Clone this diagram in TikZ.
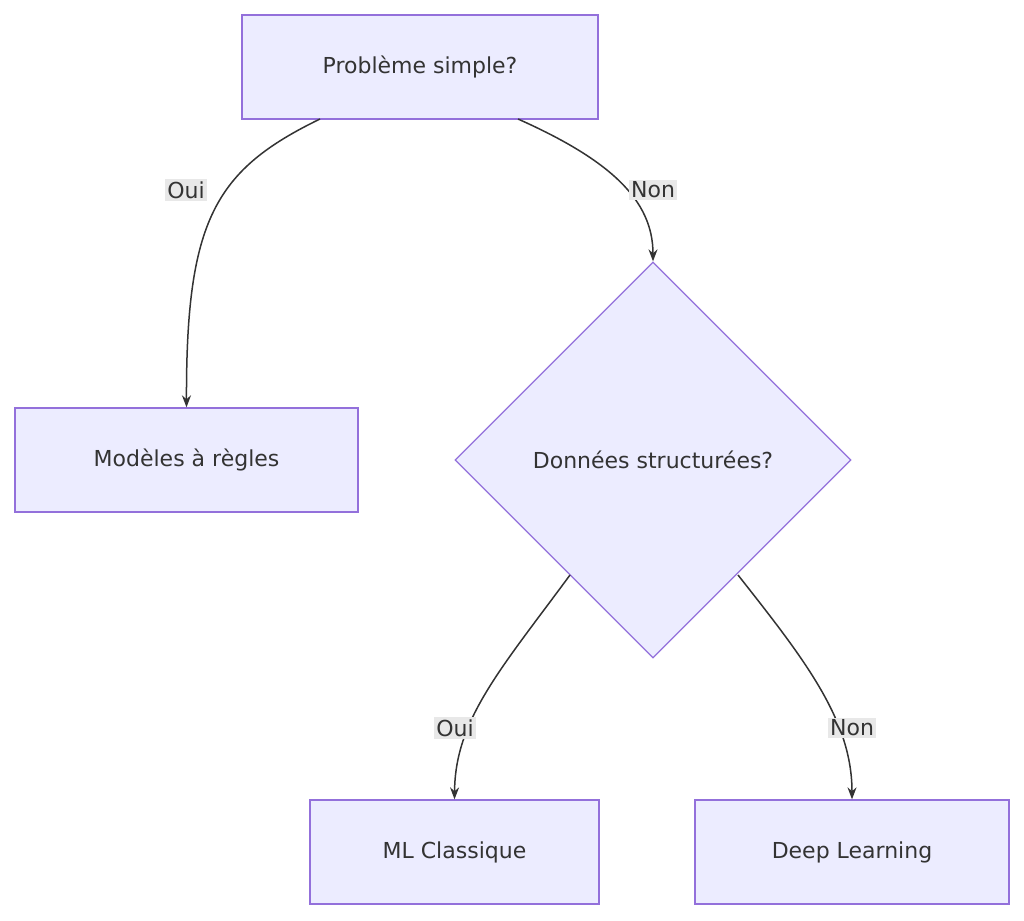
\documentclass[tikz,border=0pt]{standalone}
\usepackage{fontspec}
\setmainfont{DejaVu Sans}
\usetikzlibrary{shapes.geometric,arrows.meta}
\definecolor{nfill}{HTML}{ECECFF}
\definecolor{nline}{HTML}{9370DB}
\definecolor{ntext}{HTML}{333333}
\definecolor{lbg}{HTML}{E8E8E8}
\begin{document}
\begin{tikzpicture}[x=1pt,y=-1pt,
  box/.style={draw=nline,fill=nfill,line width=1.3pt,minimum height=104pt,inner sep=0pt,text=ntext,font=\fontsize{22}{26}\selectfont},
  dia/.style={draw=nline,fill=nfill,line width=1.3pt,diamond,aspect=1,minimum width=396pt,minimum height=396pt,inner sep=0pt,text=ntext,font=\fontsize{22}{26}\selectfont},
  lbl/.style={fill=lbg,text=ntext,inner sep=2pt,font=\fontsize{22}{26}\selectfont},
  edge/.style={draw=ntext,line width=1.5pt,-{Stealth[length=12pt,width=9pt]}}]
\useasboundingbox (0,0) rectangle (1024,920);
\node[box,minimum width=356pt] (top) at (420,67) {Problème simple?};
\node[box,minimum width=343pt] (reg) at (186.5,460) {Modèles à règles};
\node[dia] (don) at (653,460) {Données structurées?};
\node[box,minimum width=289pt] (ml) at (454.5,852) {ML Classique};
\node[box,minimum width=314pt] (dl) at (852,852) {Deep Learning};
\coordinate (a1) at (320,119);
\coordinate (b1) at (518,119);
\coordinate (c1) at (570,575);
\coordinate (d1) at (738,575);
\draw[edge] (a1) .. controls (215,170) and (186,220) .. (reg.north);
\draw[edge] (b1) .. controls (610,160) and (653,200) .. (don.north);
\draw[edge] (c1) .. controls (500,670) and (455,720) .. (ml.north);
\draw[edge] (d1) .. controls (805,660) and (852,720) .. (dl.north);
\node[lbl] (l1) at (186,190) {Oui};
\node[lbl] (l2) at (653,190) {Non};
\node[lbl] (l3) at (455,728) {Oui};
\node[lbl] (l4) at (852,728) {Non};
\end{tikzpicture}
\end{document}
